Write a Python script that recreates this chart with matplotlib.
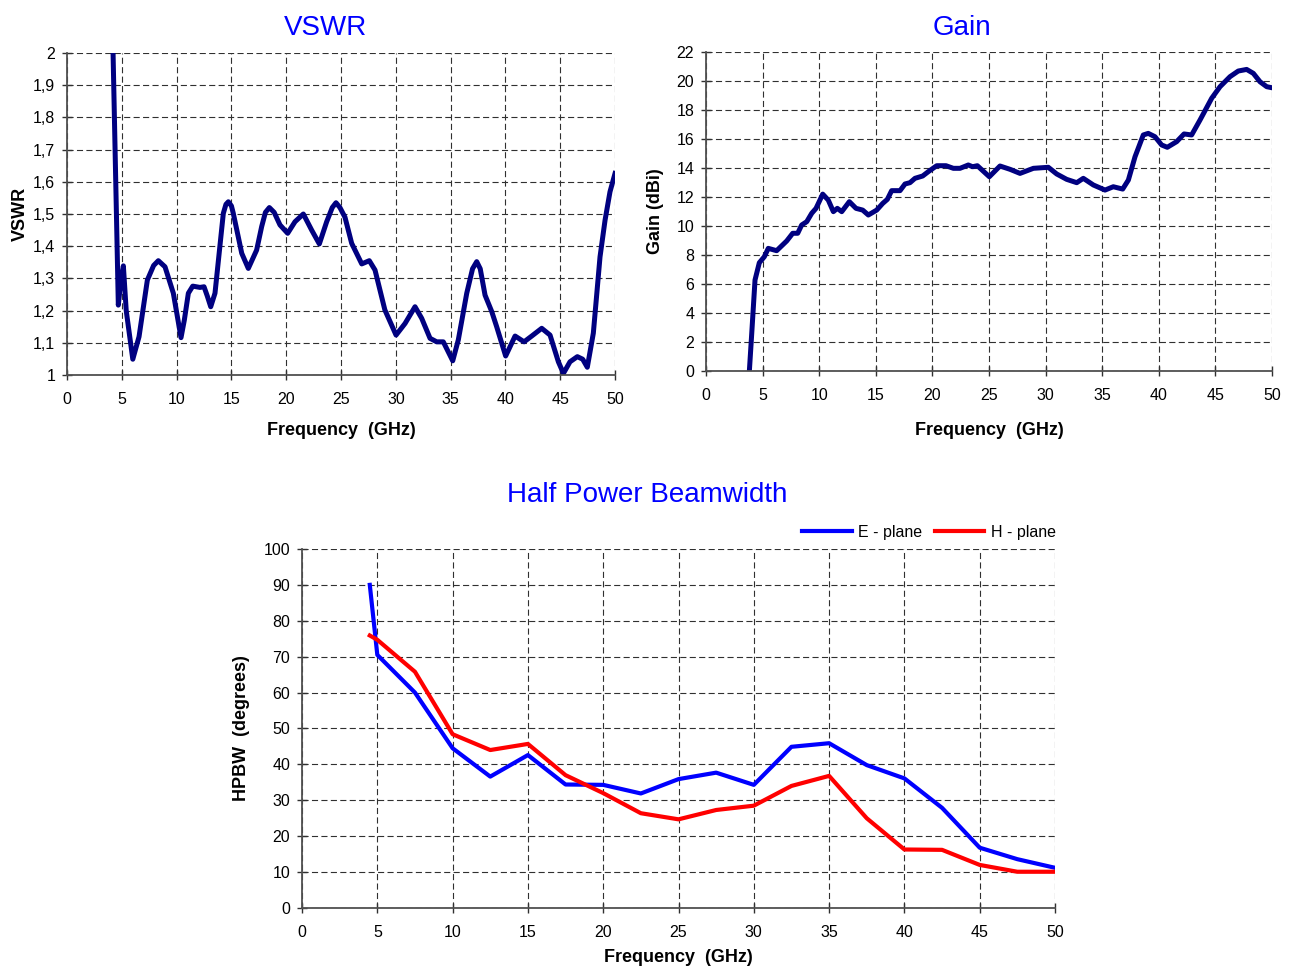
import numpy as np
import matplotlib.pyplot as plt

plt.rcParams['font.family'] = ['Liberation Sans', 'DejaVu Sans']

# VSWR data #
vswr_freq = [4.2, 4.68, 4.9, 5.14, 5.4, 6.0, 6.57, 7.33, 7.9, 8.33, 8.94, 9.70, 10.4, 10.7,
             11.07, 11.47, 12.13, 12.5, 12.8, 13.11, 13.5, 14.26, 14.5, 14.72, 15.0, 15.17,
             15.94, 16.54, 17.3, 17.76, 18.1, 18.46, 18.9, 19.43, 20.13, 20.8, 21.56, 22.32,
             23.02, 23.69, 24.2, 24.54, 24.9, 25.36, 25.97, 26.89, 27.58, 28.1, 29.0, 30.02,
             30.84, 31.75, 32.36, 33.12, 33.73, 34.33, 35.19, 35.7, 36.47, 37.0, 37.38, 37.7,
             38.14, 38.75, 39.2, 40.02, 40.88, 41.7, 42.4, 43.31, 44.07, 44.83, 45.29, 45.89,
             46.56, 47.05, 47.47, 48.02, 48.63, 49.09, 49.54, 50.0]
vswr_vals = [2.0, 1.217, 1.29, 1.339, 1.2, 1.049, 1.119, 1.295, 1.34, 1.355, 1.336, 1.254,
             1.116, 1.17, 1.254, 1.276, 1.272, 1.274, 1.245, 1.212, 1.254, 1.502, 1.53, 1.538,
             1.525, 1.502, 1.378, 1.331, 1.388, 1.461, 1.505, 1.52, 1.505, 1.466, 1.44, 1.476,
             1.5, 1.45, 1.407, 1.476, 1.52, 1.535, 1.52, 1.49, 1.409, 1.345, 1.355, 1.326,
             1.202, 1.124, 1.16, 1.212, 1.176, 1.114, 1.103, 1.103, 1.044, 1.109, 1.254, 1.33,
             1.352, 1.33, 1.248, 1.197, 1.15, 1.059, 1.121, 1.103, 1.121, 1.145, 1.124, 1.041,
             1.005, 1.041, 1.057, 1.049, 1.024, 1.13, 1.367, 1.481, 1.569, 1.626]
vswr_ticks = [1.0, 1.1, 1.2, 1.3, 1.4, 1.5, 1.6, 1.7, 1.8, 1.9, 2.0]
vswr_ticklabels = ['1', '1,1', '1,2', '1,3', '1,4', '1,5', '1,6', '1,7', '1,8', '1,9', '2']

# Gain data #
gain_freq = [3.83, 4.04, 4.33, 4.71, 5.15, 5.5, 6.24, 7.13, 7.66, 8.1, 8.45, 8.9, 9.34, 9.72,
             10.31, 10.8, 11.25, 11.6, 11.99, 12.66, 13.25, 13.84, 14.34, 15.08, 15.61, 16.02,
             16.4, 17.14, 17.58, 18.02, 18.46, 19.14, 19.64, 20.38, 21.2, 21.85, 22.44, 23.17,
             23.55, 23.97, 25.03, 25.97, 26.86, 27.74, 28.92, 30.24, 30.98, 31.86, 32.75, 33.33,
             34.22, 35.25, 35.98, 36.81, 37.31, 37.9, 38.63, 39.07, 39.66, 40.25, 40.75, 41.58,
             42.23, 42.9, 43.64, 44.67, 45.41, 46.29, 47.02, 47.76, 48.35, 48.94, 49.53, 49.97]
gain_vals = [0.0, 2.6, 6.28, 7.47, 7.88, 8.46, 8.3, 8.97, 9.5, 9.5, 10.07, 10.3, 10.88, 11.22,
             12.2, 11.79, 10.99, 11.22, 10.99, 11.68, 11.22, 11.1, 10.76, 11.1, 11.56, 11.84,
             12.44, 12.44, 12.9, 12.99, 13.29, 13.45, 13.75, 14.16, 14.16, 13.98, 13.98, 14.21,
             14.09, 14.16, 13.4, 14.14, 13.91, 13.63, 13.98, 14.05, 13.59, 13.22, 12.99, 13.29,
             12.83, 12.48, 12.71, 12.55, 13.17, 14.78, 16.28, 16.39, 16.16, 15.59, 15.43, 15.82,
             16.35, 16.28, 17.31, 18.81, 19.61, 20.3, 20.69, 20.8, 20.53, 19.95, 19.61, 19.54]

# HPBW data #
hpbw_freq = [4.5, 5, 7.5, 10, 12.5, 15, 17.5, 20, 22.5, 25, 27.5, 30, 32.5, 35, 37.5, 40,
             42.5, 45, 47.5, 50]
e_plane = [90, 70.5, 60, 44.5, 36.6, 42.6, 34.4, 34.3, 31.9, 35.9, 37.7, 34.3, 44.9, 45.9,
           39.8, 36.1, 27.9, 16.8, 13.6, 11.2]
h_plane = [75.9, 74.7, 65.8, 48.4, 44, 45.7, 37, 32, 26.4, 24.7, 27.3, 28.5, 34, 36.8,
           25, 16.3, 16.2, 12, 10.1, 10.1]

freq_ticks = np.arange(0, 55, 5)


def style_axes(ax):
    ax.grid(True, color='#303030', linestyle=(0, (5.5, 3)), linewidth=0.8)
    for side in ['top', 'right']:
        ax.spines[side].set_visible(False)
    for side in ['left', 'bottom']:
        ax.spines[side].set_color('#505050')
        ax.spines[side].set_linewidth(1.3)
    ax.tick_params(direction='inout', colors='#303030', labelcolor='black', labelsize=11.5,
                   length=7, width=1, pad=5)
    ax.tick_params(axis='x', pad=9)
    ax.set_xticks(freq_ticks)
    ax.set_xlim(0, 50)


def set_labels(ax, xtext, ytext, xpos, ypos):
    ax.set_xlabel(xtext, fontsize=13, fontweight='bold')
    ax.set_ylabel(ytext, fontsize=13, fontweight='bold')
    ax.xaxis.set_label_coords(0.5, xpos)
    ax.yaxis.set_label_coords(ypos, 0.5)
    ax.xaxis.label.set_va('center')
    ax.yaxis.label.set_va('center')


fig = plt.figure(figsize=(12.94, 9.67), dpi=100)

# VSWR Graph #
ax1 = fig.add_axes([0.0518, 0.6122, 0.4235, 0.333])
ax1.plot(vswr_freq, vswr_vals, color='#000080', linewidth=3.6, solid_joinstyle='round')
style_axes(ax1)
ax1.set_ylim(1, 2)
ax1.set_yticks(vswr_ticks)
ax1.set_yticklabels(vswr_ticklabels)
set_labels(ax1, 'Frequency  (GHz)', 'VSWR', -0.171, -0.0858)
fig.text(325 / 1294, 1 - 28 / 967, 'VSWR', color='#0000FF', fontsize=20, ha='center', va='center')

# Gain Graph #
ax2 = fig.add_axes([0.5456, 0.6163, 0.4374, 0.3299])
ax2.plot(gain_freq, gain_vals, color='#000080', linewidth=3.6, solid_joinstyle='round')
style_axes(ax2)
ax2.set_ylim(0, 22)
ax2.set_yticks(np.arange(0, 24, 2))
set_labels(ax2, 'Frequency  (GHz)', 'Gain (dBi)', -0.185, -0.090)
fig.text(962 / 1294, 1 - 28 / 967, 'Gain', color='#0000FF', fontsize=20, ha='center', va='center')

# HPBW Graph #
ax3 = fig.add_axes([0.2334, 0.061, 0.5819, 0.3713])
ax3.plot(hpbw_freq, e_plane, color='#0000FF', linewidth=3, label='E - plane')
ax3.plot(hpbw_freq, h_plane, color='#FF0000', linewidth=3, label='H - plane')
style_axes(ax3)
ax3.set_ylim(0, 100)
ax3.set_yticks(np.arange(0, 110, 10))
set_labels(ax3, 'Frequency  (GHz)', 'HPBW  (degrees)', -0.1365, -0.081)
ax3.legend(loc='lower right', bbox_to_anchor=(1.016, 0.995), ncol=2, frameon=False, fontsize=11.5,
           handlelength=3.1, handletextpad=0.4, columnspacing=0.8, borderaxespad=0.3)
fig.text(647 / 1294, 1 - 495 / 967, 'Half Power Beamwidth', color='#0000FF', fontsize=20,
         ha='center', va='center')

fig.savefig('out.png', dpi=100)
